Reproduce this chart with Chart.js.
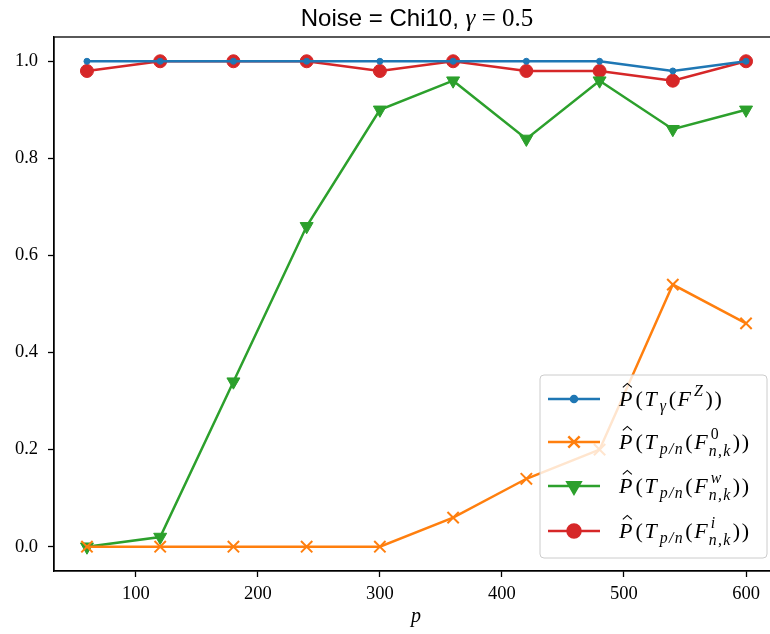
<!DOCTYPE html>
<html>
<head>
<meta charset="utf-8">
<script src="https://cdn.jsdelivr.net/npm/chart.js@4.4.1/dist/chart.umd.min.js"></script>
<style>
  html, body { margin: 0; padding: 0; overflow: hidden; background: #fff; }
  #wrap { width: 800px; height: 634px; }
</style>
</head>
<body>
<div id="wrap"><canvas id="chart"></canvas></div>
<script>
// data
const pValues = [60, 120, 180, 240, 300, 360, 420, 480, 540, 600];
const probZ     = [1.00, 1.00, 1.00, 1.00, 1.00, 1.00, 1.00, 1.00, 0.98, 1.00];
const probZero  = [0.00, 0.00, 0.00, 0.00, 0.00, 0.06, 0.14, 0.20, 0.54, 0.46];
const probW     = [0.00, 0.02, 0.34, 0.66, 0.90, 0.96, 0.84, 0.96, 0.86, 0.90];
const probI     = [0.98, 1.00, 1.00, 1.00, 0.98, 1.00, 0.98, 0.98, 0.96, 1.00];
const xTicks = [100, 200, 300, 400, 500, 600];
const yTicks = [0.0, 0.2, 0.4, 0.6, 0.8, 1.0];

// legend labels as small math pieces
const labelZ    = [{t: 'P', i: 1, hat: 1}, {t: '('}, {t: 'T', i: 1}, {sub: 'γ'}, {t: '('}, {t: 'F', i: 1}, {sup: 'Z'}, {t: '))'}];
const labelZero = [{t: 'P', i: 1, hat: 1}, {t: '('}, {t: 'T', i: 1}, {sub: 'p/n'}, {t: '('}, {t: 'F', i: 1}, {sup: '0', sub: 'n,k'}, {t: '))'}];
const labelW    = [{t: 'P', i: 1, hat: 1}, {t: '('}, {t: 'T', i: 1}, {sub: 'p/n'}, {t: '('}, {t: 'F', i: 1}, {sup: 'w', sub: 'n,k'}, {t: '))'}];
const labelI    = [{t: 'P', i: 1, hat: 1}, {t: '('}, {t: 'T', i: 1}, {sub: 'p/n'}, {t: '('}, {t: 'F', i: 1}, {sup: 'i', sub: 'n,k'}, {t: '))'}];

const BLUE = '#1f77b4', ORANGE = '#ff7f0e', GREEN = '#2ca02c', RED = '#d62728';
const SERIF = '"Liberation Serif", "DejaVu Serif", serif';

function drawMath(ctx, x, y, parts, size) {
    const small = size * 0.72;
    const gap = 1.6;
    ctx.textBaseline = 'alphabetic';
    ctx.textAlign = 'left';
    for (const p of parts) {
        if (p.t) {
            ctx.font = (p.i ? 'italic ' : '') + size + 'px ' + SERIF;
            const w = ctx.measureText(p.t).width;
            if (p.t === '))') {
                ctx.fillText(')', x, y);
                ctx.fillText(')', x + w / 2 + gap, y);
                x += w + gap;
                continue;
            }
            ctx.fillText(p.t, x, y);
            if (p.hat) {
                const cx = x + w * 0.62, top = y - size * 0.8;
                ctx.beginPath();
                ctx.moveTo(cx - 4.5, top - 1);
                ctx.lineTo(cx, top - 5);
                ctx.lineTo(cx + 4.5, top - 1);
                ctx.lineWidth = 1.1;
                ctx.stroke();
            }
            x += w + gap + (p.i ? 1.5 : 0);
        } else {
            let w = 0;
            if (p.sup) {
                ctx.font = (p.sup === '0' ? '' : 'italic ') + small + 'px ' + SERIF;
                ctx.fillText(p.sup, x, y - size * 0.45);
                w = Math.max(w, ctx.measureText(p.sup).width);
            }
            if (p.sub) {
                ctx.font = 'italic ' + small + 'px ' + SERIF;
                const dy = p.sup ? size * 0.3 : size * 0.22;
                const txt = p.sub.split('').join('\u200A');
                ctx.fillText(txt, x - (p.sup ? 2 : 0), y + dy);
                w = Math.max(w, ctx.measureText(txt).width - (p.sup ? 2 : 0));
            }
            x += w + gap + 1;
        }
    }
}

const seriesStyle = [
    {label: labelZ,    data: probZ,    color: BLUE,   style: 'circle',   r: 3,   rot: 0},
    {label: labelZero, data: probZero, color: ORANGE, style: 'crossRot', r: 8,   rot: 0},
    {label: labelW,    data: probW,    color: GREEN,  style: 'triangle', r: 7.5, rot: 180},
    {label: labelI,    data: probI,    color: RED,    style: 'circle',   r: 6.5, rot: 0}
];

const decor = {
    id: 'decor',
    afterDraw(chart) {
        const ctx = chart.ctx;
        const a = chart.chartArea;
        ctx.save();
        // frame
        ctx.strokeStyle = '#000';
        ctx.lineWidth = 1.3;
        ctx.strokeRect(a.left, a.top, a.right - a.left, a.bottom - a.top);

        // title
        ctx.fillStyle = '#000';
        ctx.textBaseline = 'alphabetic';
        const sansFont = '24px "Liberation Sans", Arial, sans-serif';
        const sansPart = 'Noise = Chi10, ';
        ctx.font = sansFont;
        const w1 = ctx.measureText(sansPart).width;
        ctx.font = 'italic 25px ' + SERIF;
        const w2 = ctx.measureText('γ').width;
        ctx.font = '25px ' + SERIF;
        const w3 = ctx.measureText(' = 0.5').width;
        let tx = 417 - (w1 + w2 + w3) / 2;
        ctx.font = sansFont;
        ctx.fillText(sansPart, tx, 26);
        tx += w1;
        ctx.font = 'italic 25px ' + SERIF;
        ctx.fillText('γ', tx, 26);
        tx += w2;
        ctx.font = '25px ' + SERIF;
        ctx.fillText(' = 0.5', tx, 26);

        // x label
        ctx.font = 'italic 20px ' + SERIF;
        ctx.textAlign = 'center';
        ctx.fillText('p', 416, 622);

        // legend
        const lx = 540, ly = 375, lw = 227, lh = 183;
        ctx.beginPath();
        ctx.roundRect(lx, ly, lw, lh, 4);
        ctx.fillStyle = 'rgba(255,255,255,0.8)';
        ctx.fill();
        ctx.strokeStyle = '#cccccc';
        ctx.lineWidth = 1;
        ctx.stroke();
        const rows = [399, 442, 486, 531];
        seriesStyle.forEach((s, k) => {
            const y = rows[k];
            ctx.strokeStyle = s.color;
            ctx.fillStyle = s.color;
            ctx.lineWidth = 2.5;
            ctx.beginPath();
            ctx.moveTo(548, y);
            ctx.lineTo(600, y);
            ctx.stroke();
            Chart.helpers.drawPoint(ctx, {
                pointStyle: s.style, radius: s.r, rotation: s.rot, borderWidth: s.style === 'crossRot' ? 2 : 1
            }, 574, y);
            ctx.fillStyle = '#000';
            ctx.strokeStyle = '#000';
            drawMath(ctx, 619, y + 7, s.label, 22);
        });
        ctx.restore();
    }
};

new Chart(document.getElementById('chart'), {
    type: 'line',
    data: {
        datasets: seriesStyle.map(s => ({
            data: pValues.map((p, i) => ({x: p, y: s.data[i]})),
            borderColor: s.color,
            backgroundColor: s.color,
            borderWidth: 2.5,
            pointStyle: s.style,
            pointRadius: s.r,
            pointRotation: s.rot,
            pointBorderWidth: s.style === 'crossRot' ? 2 : 1,
            pointHoverRadius: s.r,
            tension: 0
        }))
    },
    options: {
        responsive: true,
        maintainAspectRatio: false,
        animation: false,
        layout: {padding: {left: 0, top: 37, right: 21, bottom: 0}},
        plugins: {legend: {display: false}, tooltip: {enabled: false}, title: {display: false}},
        scales: {
            x: {
                type: 'linear',
                min: 33, max: 627,
                afterBuildTicks: s => { s.ticks = xTicks.map(v => ({value: v})); },
                afterFit: s => { s.height = 63; },
                grid: {drawOnChartArea: false, drawTicks: true, tickLength: 6, tickWidth: 1.3, tickColor: '#000'},
                border: {display: true, color: '#000', width: 1.3},
                ticks: {color: '#000', font: {family: SERIF, size: 18.5}, padding: 6, maxRotation: 0,
                    callback: v => String(v)}
            },
            y: {
                min: -0.05, max: 1.05,
                afterBuildTicks: s => { s.ticks = yTicks.map(v => ({value: v})); },
                afterFit: s => { s.width = 54; },
                grid: {drawOnChartArea: false, drawTicks: true, tickLength: 6, tickWidth: 1.3, tickColor: '#000'},
                border: {display: true, color: '#000', width: 1.3},
                ticks: {color: '#000', font: {family: SERIF, size: 18.5}, padding: 10,
                    callback: v => v.toFixed(1)}
            }
        }
    },
    plugins: [decor]
});
</script>
</body>
</html>
